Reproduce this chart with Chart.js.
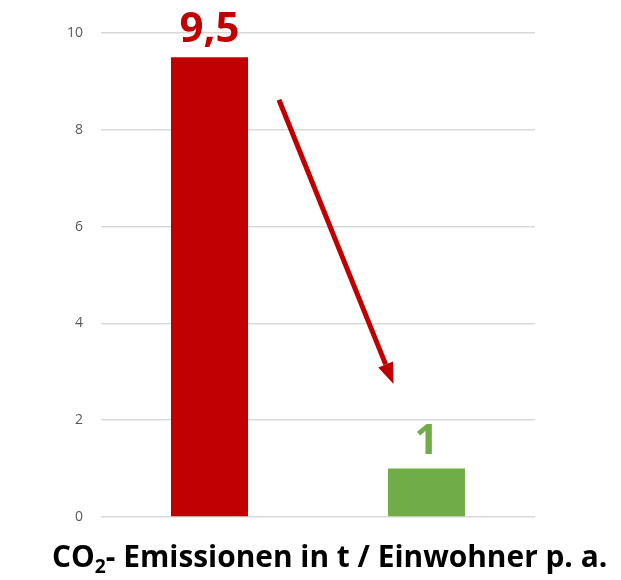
<!DOCTYPE html>
<html>
<head>
<meta charset="utf-8">
<script src="https://cdn.jsdelivr.net/npm/chart.js@4"></script>
<style>
    html, body { margin: 0; padding: 0; background: #fff; }
    #wrap { position: relative; width: 621px; height: 580px; }
    #chart { position: absolute; left: 0; top: 0; }
    #title {
        position: absolute; left: 52px; top: 535px;
        font-family: "Open Sans", sans-serif; font-weight: bold; font-size: 31px;
        color: #000; white-space: nowrap; transform-origin: 0 0; line-height: 40px;
    }
    #title sub { font-size: 20px; vertical-align: -6px; line-height: 0; }
</style>
</head>
<body>
<div id="wrap">
    <canvas id="chart" width="621" height="580"></canvas>
    <div id="title">CO<sub>2</sub>- Emissionen in t / Einwohner p. a.</div>
</div>
<script>
// chart data
const categories = ['Heute', 'Ziel'];
const emissions = [9.5, 1];
const barColors = ['#C00000', '#70AD47'];
const valueLabels = ['9,5', '1'];
const yTicks = [0, 2, 4, 6, 8, 10];

// arrow from the red bar down to the green one, in data units (category index, value)
const arrowFrom = { x: 0.32, y: 8.62 };
const arrowTo = { x: 0.848, y: 2.75 };

// squeeze title to the reference width
const title = document.getElementById('title');
title.style.transform = 'scaleX(' + (555 / title.offsetWidth) + ')';

const valueLabelPlugin = {
    id: 'valueLabels',
    afterDatasetsDraw(chart) {
        const ctx = chart.ctx;
        const meta = chart.getDatasetMeta(0);
        ctx.save();
        ctx.font = 'bold 42px "Open Sans", sans-serif';
        ctx.textAlign = 'center';
        ctx.textBaseline = 'alphabetic';
        meta.data.forEach((bar, i) => {
            ctx.fillStyle = barColors[i];
            ctx.fillText(valueLabels[i], bar.x, bar.y - 15);
        });
        ctx.restore();
    }
};

const arrowPlugin = {
    id: 'arrow',
    afterDatasetsDraw(chart) {
        const ctx = chart.ctx;
        const xs = chart.scales.x, ys = chart.scales.y;
        const x1 = xs.getPixelForValue(arrowFrom.x), y1 = ys.getPixelForValue(arrowFrom.y);
        const x2 = xs.getPixelForValue(arrowTo.x), y2 = ys.getPixelForValue(arrowTo.y);
        const ang = Math.atan2(y2 - y1, x2 - x1);
        const headLen = 21, headW = 8;
        const bx = x2 - headLen * Math.cos(ang), by = y2 - headLen * Math.sin(ang);
        ctx.save();
        ctx.strokeStyle = '#C00000';
        ctx.fillStyle = '#C00000';
        ctx.lineWidth = 5;
        ctx.beginPath();
        ctx.moveTo(x1, y1);
        ctx.lineTo(bx, by);
        ctx.stroke();
        ctx.beginPath();
        ctx.moveTo(x2, y2);
        ctx.lineTo(bx + headW * Math.sin(ang), by - headW * Math.cos(ang));
        ctx.lineTo(bx - headW * Math.sin(ang), by + headW * Math.cos(ang));
        ctx.closePath();
        ctx.fill();
        ctx.restore();
    }
};

new Chart(document.getElementById('chart').getContext('2d'), {
    type: 'bar',
    data: {
        labels: categories,
        datasets: [{
            data: emissions,
            backgroundColor: barColors,
            borderWidth: 0,
            categoryPercentage: 1,
            barPercentage: 0.355
        }]
    },
    options: {
        responsive: false,
        animation: false,
        layout: { padding: { left: 0, right: 86, top: 33, bottom: 63 } },
        plugins: { legend: { display: false }, tooltip: { enabled: false } },
        scales: {
            x: {
                ticks: { display: false },
                grid: { display: false },
                border: { display: false },
                afterFit: s => { s.height = 0; }
            },
            y: {
                min: 0,
                max: 10,
                afterBuildTicks: s => { s.ticks = yTicks.map(v => ({ value: v })); },
                afterFit: s => { s.width = 101; },
                ticks: {
                    color: '#595959',
                    padding: 18,
                    font: { family: '"Open Sans", sans-serif', size: 14 }
                },
                grid: { color: '#D9D9D9', lineWidth: 1.5, drawTicks: false },
                border: { display: false }
            }
        }
    },
    plugins: [valueLabelPlugin, arrowPlugin]
});
</script>
</body>
</html>
